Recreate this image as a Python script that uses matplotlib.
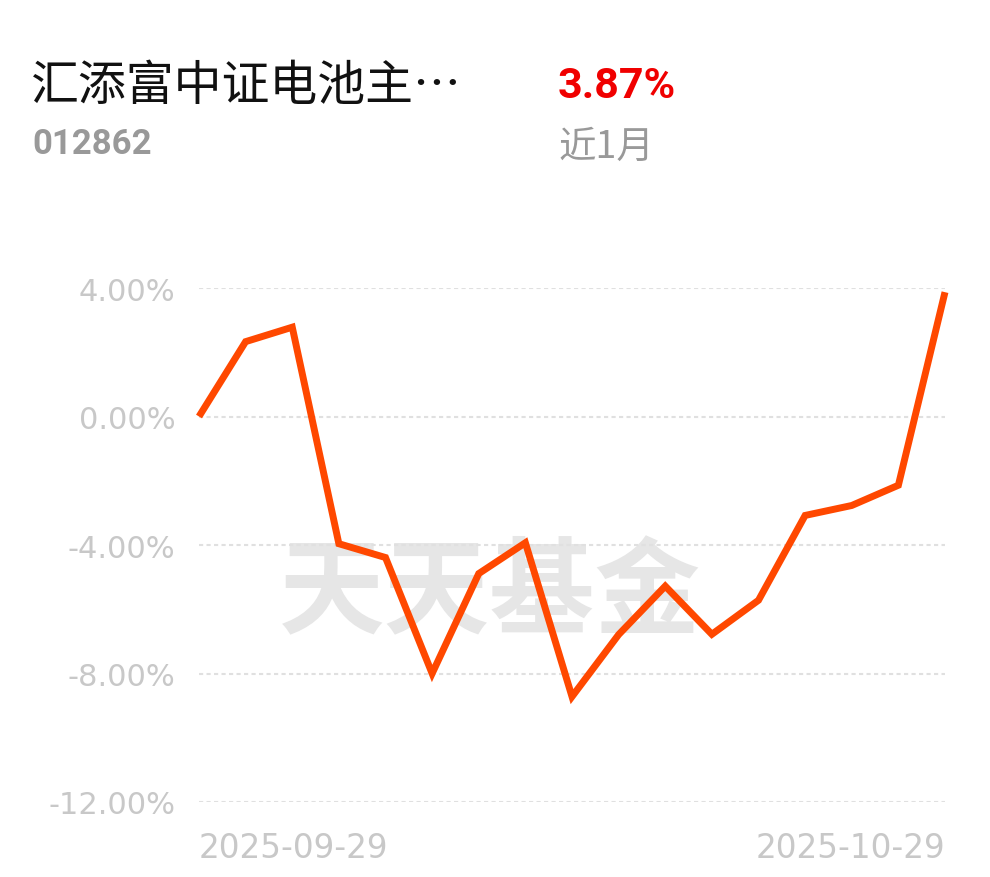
import matplotlib
matplotlib.use("Agg")
import matplotlib.pyplot as plt

plt.rcParams['font.family'] = ['Noto Sans CJK SC', 'DejaVu Sans']

# data
fund_name = "汇添富中证电池主…"
fund_code = "012862"
period_return = "3.87%"
period_label = "近1月"
returns = [0.00, 2.33, 2.78, -3.96, -4.39, -8.00, -4.89, -3.93, -8.72,
           -6.79, -5.28, -6.78, -5.72, -3.08, -2.77, -2.14, 3.87]
y_ticks = [4, 0, -4, -8, -12]
x_labels = ["2025-09-29", "2025-10-29"]

W, H = 990, 878
fig = plt.figure(figsize=(W / 100, H / 100), dpi=100)
fig.patch.set_facecolor('white')

# header
fig.text(31 / W, 1 - 86 / H, fund_name, fontsize=34.5, color='#111111', va='center', ha='left')
fig.text(32 / W, 1 - 145 / H, fund_code, fontsize=25, color='#999999', fontweight='bold',
         family=['Roboto', 'DejaVu Sans'], va='center', ha='left')
fig.text(558 / W, 1 - 87 / H, period_return, fontsize=31, color='#f00000', fontweight='bold',
         family=['Roboto', 'DejaVu Sans'], va='center', ha='left')
fig.text(558 / W, 1 - 147 / H, period_label, fontsize=27, color='#999999', va='center', ha='left')

# chart area
left, right = 199 / W, 945 / W
bottom, top = 1 - 803 / H, 1 - 289 / H
ax = fig.add_axes([left, bottom, right - left, top - bottom])
ax.set_xlim(0, len(returns) - 1)
ax.set_ylim(-12, 4)

for v in y_ticks:
    ax.axhline(v, color='#e0e0e0', lw=1.5, linestyle=(0, (2, 1.6)), zorder=1)

# watermark
ax.text(0.39, 0.405, "天天基金", transform=ax.transAxes, fontsize=76, fontweight='bold',
        color='#e6e6e6', ha='center', va='center', zorder=0)

ax.plot(range(len(returns)), returns, color='#ff4800', lw=5, solid_joinstyle='miter',
        solid_capstyle='butt', clip_on=False, zorder=3)

for s in ax.spines.values():
    s.set_visible(False)

ax.set_yticks(y_ticks)
ax.set_yticklabels([f"{v:.2f}%" for v in y_ticks], family=['DejaVu Sans'])
ax.tick_params(axis='y', length=0, pad=17, labelsize=22, labelcolor='#c8c8c8')

ax.set_xticks([0, len(returns) - 1])
ax.set_xticklabels(x_labels, family=['DejaVu Sans'])
ax.tick_params(axis='x', length=0, pad=21, labelsize=23.5, labelcolor='#c8c8c8')
xt = ax.get_xticklabels()
xt[0].set_ha('left')
xt[1].set_ha('right')

fig.savefig("out.png", dpi=100, facecolor='white')
